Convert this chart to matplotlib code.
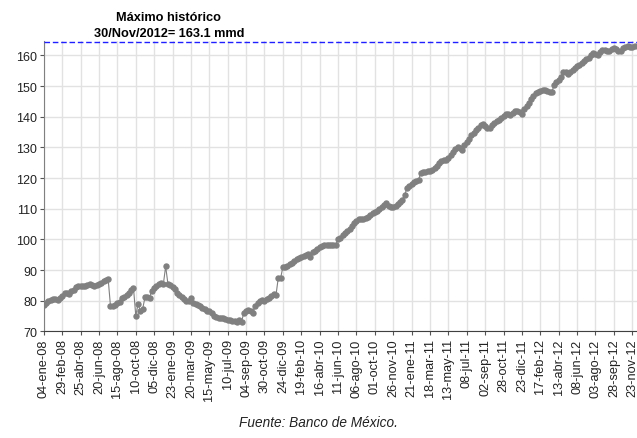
import matplotlib
matplotlib.use("Agg")
import matplotlib.pyplot as plt
import numpy as np

plt.rcParams['font.family'] = ['Liberation Sans', 'DejaVu Sans']

# weekly values (mmd), 04-ene-08 .. 30-nov-12, one row per tick interval
reservas = [
    78.6, 79.3, 79.8, 80.2, 80.4, 80.4, 80.1, 80.8,
    81.6, 82.5, 82.6, 82.3, 83.0, 83.6, 84.3, 84.8,
    84.9, 84.8, 84.9, 85.1, 85.4, 85.0, 84.8, 85.1,
    85.6, 85.9, 86.3, 86.8, 87.0, 78.2, 78.3, 78.6,
    79.2, 79.6, 80.8, 81.3, 82.0, 82.4, 83.4, 84.2,
    75.1, 78.9, 76.7, 77.3, 81.1, 81.2, 81.0, 83.3,
    84.1, 84.8, 85.5, 85.7, 85.4, 91.2, 85.4, 85.0,
    84.5, 83.9, 82.5, 82.0, 81.3, 80.6, 80.0, 79.8,
    80.9, 79.4, 79.0, 78.5, 78.2, 77.6, 77.2, 76.7,
    76.5, 76.0, 75.1, 74.6, 74.4, 74.3, 74.2, 73.9,
    73.7, 73.6, 73.5, 73.3, 73.0, 73.8, 73.0, 76.1,
    76.5, 76.8, 76.6, 76.1, 78.3, 79.2, 79.9, 80.1,
    79.8, 80.5, 81.0, 81.4, 82.1, 81.8, 87.5, 87.3,
    91.0, 91.1, 91.3, 91.8, 92.3, 92.9, 93.7, 94.0,
    94.3, 94.6, 94.8, 95.1, 94.4, 96.0, 96.3, 96.7,
    97.5, 97.8, 98.0, 98.1, 98.2, 98.2, 98.2, 98.2,
    100.1, 100.6, 101.3, 102.0, 102.7, 103.5, 104.4, 105.3,
    105.9, 106.5, 106.8, 106.7, 107.0, 107.4, 107.9, 108.5,
    108.8, 109.3, 110.0, 110.6, 111.2, 111.7, 111.0, 110.4,
    110.5, 111.0, 111.6, 112.3, 113.0, 114.5, 116.8, 117.5,
    118.0, 118.6, 119.0, 119.3, 121.7, 122.0, 122.1, 122.2,
    122.3, 122.6, 123.2, 124.0, 124.8, 125.6, 125.9, 126.0,
    126.6, 127.6, 128.6, 129.6, 130.2, 129.9, 129.0, 130.9,
    131.6, 132.6, 134.0, 134.6, 135.6, 136.3, 137.3, 137.6,
    137.0, 136.3, 136.2, 137.2, 137.9, 138.6, 139.0, 139.6,
    140.3, 140.8, 140.8, 140.6, 141.2, 141.8, 142.0, 141.4,
    141.0, 142.5, 143.4, 144.6, 145.8, 146.8, 147.6, 148.2,
    148.4, 148.6, 148.8, 148.5, 148.2, 148.0, 150.4, 151.3,
    152.0, 152.9, 154.7, 154.5, 154.0, 154.5, 155.2, 155.9,
    156.5, 157.0, 157.5, 158.2, 158.7, 159.2, 160.0, 160.7,
    160.5, 160.3, 161.2, 161.7, 161.8, 161.5, 161.6, 162.0,
    162.3, 162.0, 161.6, 161.3, 162.4, 162.9, 163.0, 162.8,
    162.9, 163.1,
]

# one label every 8 observations
tick_labels = [
    "04-ene-08", "29-feb-08", "25-abr-08", "20-jun-08", "15-ago-08", "10-oct-08",
    "05-dic-08", "23-ene-09", "20-mar-09", "15-may-09", "10-jul-09", "04-sep-09",
    "30-oct-09", "24-dic-09", "19-feb-10", "16-abr-10", "11-jun-10", "06-ago-10",
    "01-oct-10", "26-nov-10", "21-ene-11", "18-mar-11", "13-may-11", "08-jul-11",
    "02-sep-11", "28-oct-11", "23-dic-11", "17-feb-12", "13-abr-12", "08-jun-12",
    "03-ago-12", "28-sep-12", "23-nov-12",
]
yticks = [70, 80, 90, 100, 110, 120, 130, 140, 150, 160]
maximo = 164.4  # dashed reference line sits on top of the plot

fig = plt.figure(figsize=(6.37, 4.39), dpi=100)
ax = fig.add_axes([0.0688, 0.243, 0.931, 0.6606])

x = np.arange(len(reservas))
ax.plot(x, reservas, color="#808080", lw=0.8, marker="o", ms=3.6,
        mfc="#808080", mec="#808080", zorder=3)
ax.axhline(maximo, color="#1f1fff", lw=1.0, ls=(0, (4, 2)), zorder=4, clip_on=False)

ax.set_xlim(0, 258)
ax.set_ylim(70, 164.6)
ax.set_xticks(np.arange(0, 8 * len(tick_labels), 8))
ax.set_xticklabels(tick_labels, rotation=90, fontsize=9.2, color="#222222")
ax.set_yticks(yticks)
ax.set_yticklabels([str(v) for v in yticks], fontsize=9, color="#222222")
ax.tick_params(axis="both", length=3, width=0.8, color="#555555", pad=2)

ax.grid(True, color="#e2e2e2", lw=1.0, zorder=0)
ax.set_axisbelow(True)
for s in ["top", "right"]:
    ax.spines[s].set_visible(False)
ax.spines["left"].set_color("#808080")
ax.spines["bottom"].set_color("#404040")

fig.text(168 / 637, 1 - 18 / 439, "Máximo histórico", ha="center", va="center",
         fontsize=9.2, fontweight="bold")
fig.text(169 / 637, 1 - 34 / 439, "30/Nov/2012= 163.1 mmd", ha="center", va="center",
         fontsize=9.2, fontweight="bold")
fig.text(318 / 637, 1 - 423 / 439, "Fuente: Banco de México.", ha="center", va="center",
         fontsize=9.8, style="italic", color="#222222")

fig.savefig("out.png", dpi=100)
